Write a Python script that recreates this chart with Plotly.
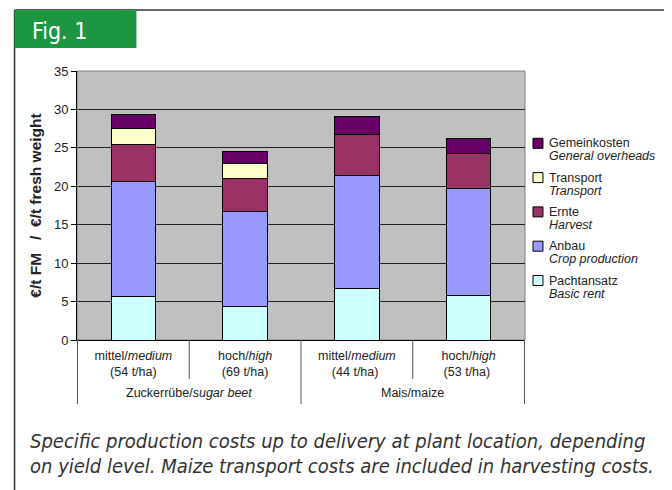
import plotly.graph_objects as go

categories = [
    "mittel/<i>medium</i><br>(54 t/ha)",
    "hoch/<i>high</i><br>(69 t/ha)",
    "mittel/<i>medium</i><br>(44 t/ha) ",
    "hoch/<i>high</i><br>(53 t/ha) ",
]
groups = ["Zuckerrübe/<i>sugar beet</i>", "Mais/maize"]

pachtansatz = [5.6, 4.4, 6.75, 5.75]
anbau = [15.05, 12.3, 14.7, 13.95]
ernte = [4.75, 4.33, 5.3, 4.6]
transport = [2.1, 1.95, 0, 0]
gemeinkosten = [1.85, 1.57, 2.3, 1.9]

names_de = ["Pachtansatz", "Anbau", "Ernte", "Transport", "Gemeinkosten"]
names_en = ["Basic rent", "Crop production", "Harvest", "Transport", "General overheads"]
series_values = [pachtansatz, anbau, ernte, transport, gemeinkosten]
series_colors = ["#CCFFFF", "#9999FF", "#993366", "#FFFFCC", "#660066"]

caption_lines = [
    "Specific production costs up to delivery at plant location, depending",
    "on yield level. Maize transport costs are included in harvesting costs.",
]

# the page body adds an 8px offset; work in screen pixels and convert
OFF = 8
W, H = 672 - OFF, 490 - OFF
L, R, T, B = 76.5, 525, 71, 340  # plot area in screen pixels


def px(x):
    return (x - L) / (R - L)


def py(y):
    return (B - y) / (B - T)


fig = go.Figure()
for de, en, vals, col in zip(names_de, names_en, series_values, series_colors):
    fig.add_trace(go.Bar(
        x=categories, y=vals, name=f"{de} / {en}", marker_color=col,
        marker_line_color="black", marker_line_width=1,
        width=0.4, showlegend=False,
    ))

shapes = []
shapes.append(dict(type="rect", xref="paper", yref="paper", x0=0, x1=1, y0=0, y1=1,
                   line=dict(color="#808080", width=1), layer="below"))
for xv, ylow in [(-0.5, 404), (0.5, 379), (1.5, 404), (2.5, 379), (3.5, 404)]:
    shapes.append(dict(type="line", xref="x", yref="paper", x0=xv, x1=xv,
                       y0=0, y1=py(ylow), line=dict(color="#555555", width=1)))
# outer page frame
shapes.append(dict(type="line", xref="paper", yref="paper", x0=px(14), x1=px(14),
                   y0=py(10), y1=py(495), line=dict(color="#333333", width=1.5)))
shapes.append(dict(type="line", xref="paper", yref="paper", x0=px(14), x1=px(667),
                   y0=py(10), y1=py(10), line=dict(color="#333333", width=1.5)))
shapes.append(dict(type="line", xref="paper", yref="paper", x0=px(667), x1=px(667),
                   y0=py(10), y1=py(495), line=dict(color="#999999", width=2)))
shapes.append(dict(type="rect", xref="paper", yref="paper", x0=px(14), x1=px(136),
                   y0=py(48), y1=py(10), fillcolor="#1D9641", line=dict(width=0)))

cond = "DejaVu Sans Condensed, DejaVu Sans, sans-serif"
annotations = [
    dict(text="Fig. 1", xref="paper", yref="paper", x=px(29), y=py(31),
         xanchor="left", yanchor="middle", showarrow=False,
         font=dict(family=cond, size=23, color="white")),
]
for gi, g in enumerate(groups):
    annotations.append(dict(text=g, xref="x", yref="paper", x=0.5 + 2 * gi, y=py(393),
                            showarrow=False, xanchor="center", yanchor="middle",
                            font=dict(family="Arial", size=12.5, color="#222")))
for li, line in enumerate(caption_lines):
    annotations.append(dict(text=f"<i>{line}</i>", xref="paper", yref="paper",
                            x=px(27), y=py(441 + 25 * li), xanchor="left", yanchor="middle",
                            showarrow=False,
                            font=dict(family=cond, size=20, color="#333333")))

# legend (top to bottom: reversed stacking order)
for k, idx in enumerate(reversed(range(len(names_de)))):
    yc = 143.3 + 34.3 * k
    shapes.append(dict(type="rect", xref="paper", yref="paper",
                       x0=px(533), x1=px(543), y0=py(yc - 5), y1=py(yc + 5),
                       fillcolor=series_colors[idx], line=dict(color="black", width=1)))
    annotations.append(dict(text=names_de[idx], xref="paper", yref="paper",
                            x=px(547), y=py(yc), xanchor="left", yanchor="middle",
                            showarrow=False,
                            font=dict(family="Arial", size=12.5, color="#222")))
    annotations.append(dict(text=f"<i>{names_en[idx]}</i>", xref="paper", yref="paper",
                            x=px(547), y=py(yc + 13), xanchor="left", yanchor="middle",
                            showarrow=False,
                            font=dict(family="Arial", size=12.5, color="#222")))

fig.update_layout(
    width=W, height=H,
    margin=dict(l=L - OFF, r=(W + OFF) - R, t=T - OFF, b=(H + OFF) - B, pad=0),
    paper_bgcolor="white", plot_bgcolor="#C0C0C0",
    barmode="stack",
    font=dict(family="Arial", size=12, color="#222"),
    shapes=shapes, annotations=annotations,
    showlegend=False,
    xaxis=dict(showgrid=False, ticks="", showline=True, linecolor="black", linewidth=1,
               ticklabelstandoff=4,
               tickfont=dict(family="Arial", size=12.5, color="#222")),
    yaxis=dict(range=[0, 35], dtick=5, showgrid=True, gridcolor="#222222", gridwidth=1,
               showline=True, linecolor="black", linewidth=1, ticks="outside", ticklen=5,
               tickcolor="black", zeroline=False,
               tickfont=dict(family="Arial", size=13, color="#222"),
               title=dict(text="<b>€/t FM&nbsp;&nbsp; /&nbsp;&nbsp;€/t fresh weight</b>",
                          font=dict(family="Arial", size=15.5, color="#222"), standoff=8)),
)

fig.write_html("out.html")
